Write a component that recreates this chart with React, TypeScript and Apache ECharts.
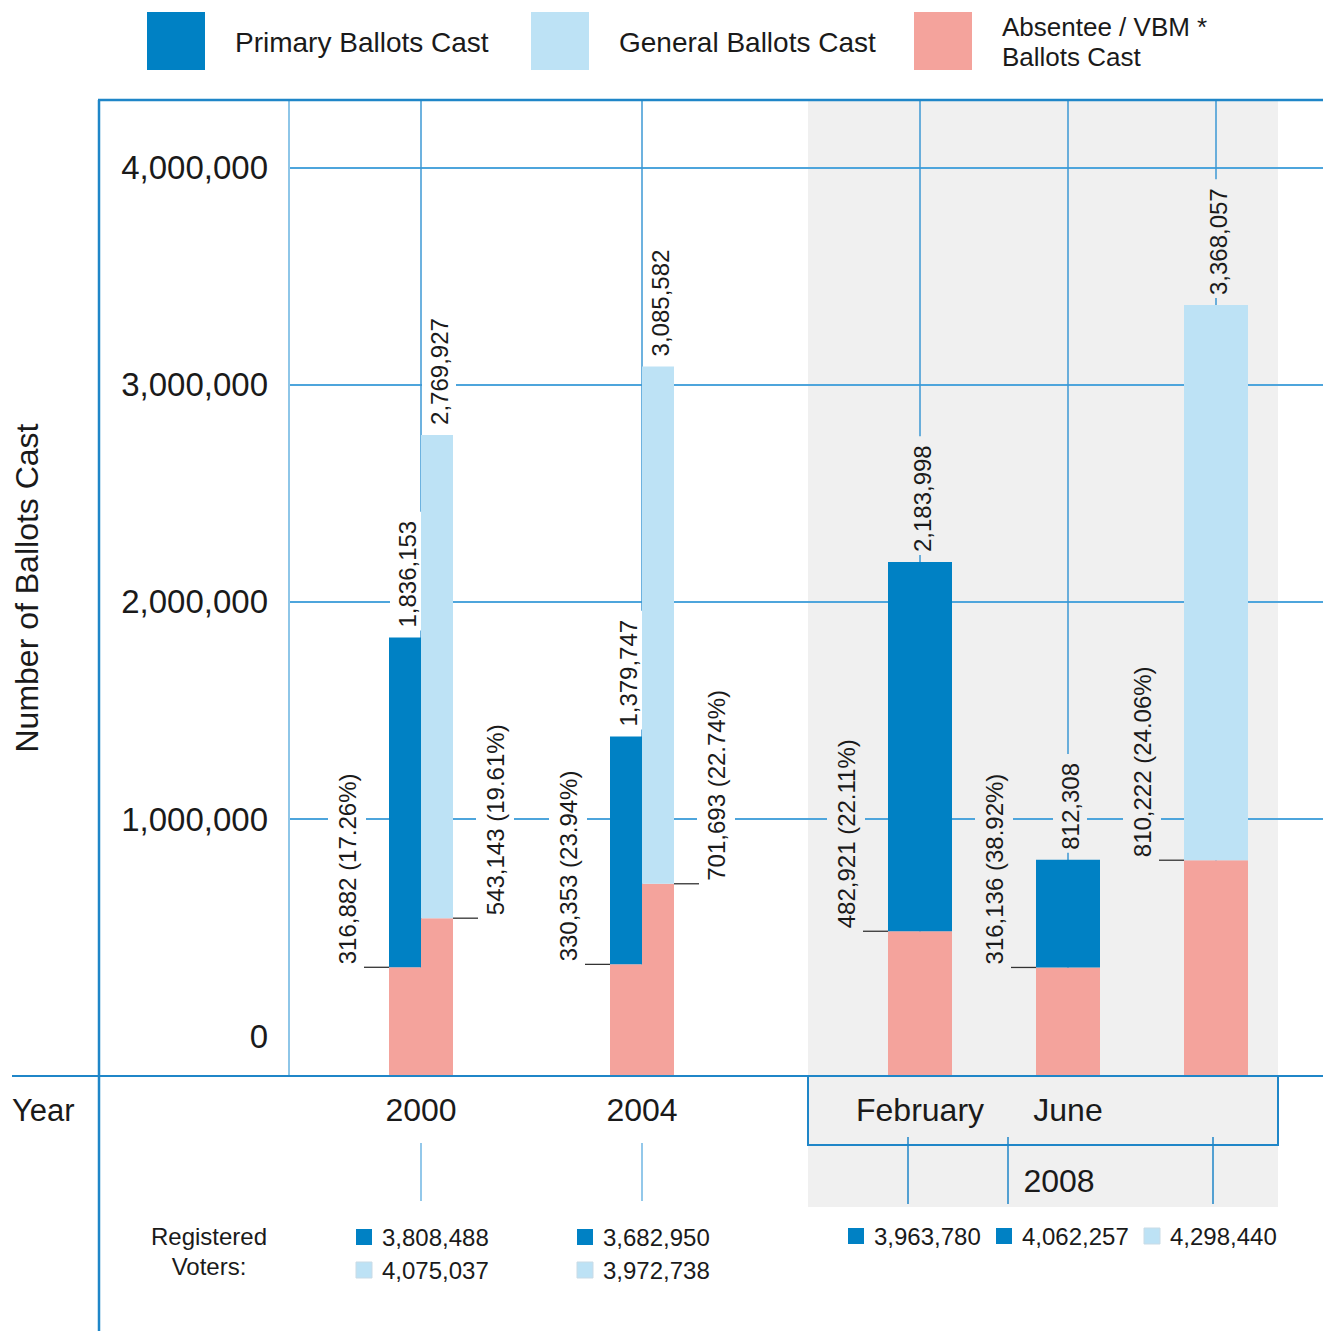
import React, { useEffect, useRef } from "react";
import * as echarts from "echarts";

// ---------------- data ----------------
const electionYears = ["2000", "2004"];
const months2008 = ["February", "June", ""];
// primary elections: 2000, 2004, Feb 2008, Jun 2008
const primaryBallots = [1836153, 1379747, 2183998, 812308];
const primaryAbsentee = [316882, 330353, 482921, 316136];
// general elections: 2000, 2004, Nov 2008
const generalBallots = [2769927, 3085582, 3368057];
const generalAbsentee = [543143, 701693, 810222];
const yTickValues = [0, 1000000, 2000000, 3000000, 4000000];
const registeredPrimary = [3808488, 3682950, 3963780, 4062257];
const registeredGeneral = [4075037, 3972738, 4298440];
const legendLabels = ["Primary Ballots Cast", "General Ballots Cast", "Absentee / VBM *\nBallots Cast"];

// ---------------- style / layout ----------------
const FONT = "'Liberation Sans', Arial, Helvetica, sans-serif";
const DARK = "#0081c4";
const LIGHT = "#bde2f5";
const PINK = "#f4a39c";
const SHADE = "#f0f0f0";
const FRAME = "#1f86c8";
const GRID = "#4ea5dc";
const VGRID = "#3d98d5";
const TEXT = "#1a1a1a";
const Y_MIN = -184000;
const Y_MAX = 4313000;
const TOP = 100;
const BOTTOM = 1076;
const G1_LEFT = 421;
const G1_WIDTH = 221;
const G2_LEFT = 920;
const G2_WIDTH = 296;

const fmt = (v: number) => Math.round(v).toLocaleString("en-US");

function makeBarRenderer(color: string, width: number, offset: number, side: number, bg: string) {
  return (params: any, api: any) => {
    const cat = api.value(0);
    const abs = api.value(1);
    const tot = api.value(2);
    const base = api.coord([cat, Y_MIN]);
    const pa = api.coord([cat, abs]);
    const pt = api.coord([cat, tot]);
    const cx = pt[0] + offset;
    const x0 = cx - width / 2;
    const edge = side < 0 ? x0 : x0 + width;
    const lineEnd = edge + side * 25;
    const labelStyle = {
      fontSize: 24,
      fontFamily: FONT,
      fill: TEXT,
      align: "left",
      verticalAlign: "middle",
      backgroundColor: bg,
      padding: [5, 9, 5, 3],
    };
    return {
      type: "group",
      children: [
        {
          type: "text",
          x: cx + 2,
          y: pt[1] - 7,
          rotation: Math.PI / 2,
          style: { ...labelStyle, text: fmt(tot) },
        },
        {
          type: "text",
          x: lineEnd + side * 17,
          y: pa[1],
          rotation: Math.PI / 2,
          style: { ...labelStyle, padding: [7, 9, 7, 3], text: `${fmt(abs)} (${((abs / tot) * 100).toFixed(2)}%)` },
        },
        {
          type: "rect",
          shape: { x: x0, y: pa[1], width, height: base[1] - pa[1] },
          style: { fill: PINK },
        },
        {
          type: "rect",
          shape: { x: x0, y: pt[1], width, height: pa[1] - pt[1] },
          style: { fill: color },
        },
        {
          type: "line",
          shape: { x1: edge, y1: pa[1], x2: lineEnd, y2: pa[1] },
          style: { stroke: "#333", lineWidth: 1.3 },
        },
      ],
    };
  };
}

function buildGraphic() {
  const g: any[] = [];
  const txt = (x: number, y: number, text: string, fontSize: number, align = "left", extra: any = {}) => ({
    type: "text",
    x,
    y,
    z: 10,
    style: { text, fontSize, fontFamily: FONT, fill: TEXT, align, verticalAlign: "middle", ...extra },
  });
  const line = (x1: number, y1: number, x2: number, y2: number, stroke: string, lineWidth: number) => ({
    type: "line",
    z: 10,
    shape: { x1, y1, x2, y2 },
    style: { stroke, lineWidth },
  });
  // 2008 shading
  g.push({ type: "rect", z: -1, silent: true, shape: { x: 808, y: TOP + 1, width: 470, height: 1106 }, style: { fill: SHADE } });
  // frame
  g.push(line(99, TOP, 99, 1331, FRAME, 2.5));
  g.push(line(98, TOP, 1323, TOP, FRAME, 2.5));
  g.push(line(12, BOTTOM, 1323, BOTTOM, FRAME, 2));
  g.push({
    type: "polyline",
    z: 10,
    shape: { points: [[808, BOTTOM], [808, 1145], [1278, 1145], [1278, BOTTOM]] },
    style: { stroke: FRAME, lineWidth: 2, fill: null },
  });
  // year ticks
  const g1x = (i: number) => G1_LEFT + (i * G1_WIDTH) / (electionYears.length - 1);
  const g2x = (i: number) => G2_LEFT + (i * G2_WIDTH) / (months2008.length - 1);
  electionYears.forEach((_, i) => g.push(line(g1x(i), 1143, g1x(i), 1201, "#6fb6e3", 1.5)));
  [908, 1008, 1213].forEach((x) => g.push(line(x, 1137, x, 1204, FRAME, 1.5)));
  g.push(txt(12, 1110, "Year", 31));
  g.push(txt(1059, 1181, "2008", 32, "center"));

  // legend
  const legendColors = [DARK, LIGHT, PINK];
  const legendX = [147, 531, 914];
  legendLabels.forEach((label, i) => {
    g.push({ type: "rect", z: 10, shape: { x: legendX[i], y: 12, width: 58, height: 58 }, style: { fill: legendColors[i] } });
    const lines = label.split("\n");
    const step = 30;
    const y0 = 42 - ((lines.length - 1) * step) / 2;
    lines.forEach((ln, j) => g.push(txt(legendX[i] + 88, y0 + j * step, ln, lines.length > 1 ? 26 : 28)));
  });

  // registered voters
  g.push(txt(209, 1236, "Registered", 24, "center"));
  g.push(txt(209, 1266, "Voters:", 24, "center"));
  const square = (x: number, y: number, fill: string) => ({
    type: "rect",
    z: 10,
    shape: { x, y: y - 8, width: 16, height: 16 },
    style: { fill, stroke: fill === LIGHT ? "#c9dbe6" : null, lineWidth: 1 },
  });
  electionYears.forEach((_, i) => {
    const x = g1x(i) - 65;
    g.push(square(x, 1237, DARK));
    g.push(txt(x + 26, 1237, fmt(registeredPrimary[i]), 24));
    g.push(square(x, 1270, LIGHT));
    g.push(txt(x + 26, 1270, fmt(registeredGeneral[i]), 24));
  });
  const reg2008 = [
    { v: registeredPrimary[2], c: DARK },
    { v: registeredPrimary[3], c: DARK },
    { v: registeredGeneral[2], c: LIGHT },
  ];
  reg2008.forEach((r, i) => {
    const x = g2x(i) - 72;
    g.push(square(x, 1236, r.c));
    g.push(txt(x + 26, 1236, fmt(r.v), 24));
  });
  return g;
}

export default function App() {
  const ref = useRef<HTMLDivElement>(null);
  useEffect(() => {
    if (!ref.current) return;
    const chart = echarts.init(ref.current, undefined, { renderer: "svg" });
    const hiddenY = (gridIndex: number) => ({ gridIndex, type: "value", min: Y_MIN, max: Y_MAX, show: false });
    const catAxis = (gridIndex: number, data: string[]) => ({
      gridIndex,
      type: "category",
      data,
      boundaryGap: false,
      axisLine: { show: false },
      axisTick: { show: false },
      axisLabel: { interval: 0, fontSize: 32, color: TEXT, fontFamily: FONT, margin: 18 },
      splitLine: { show: true, interval: 0, lineStyle: { color: VGRID, width: 1.5 } },
    });
    const option: any = {
      animation: false,
      backgroundColor: "#ffffff",
      grid: [
        { left: 289, top: TOP, width: 1034, height: BOTTOM - TOP },
        { left: G1_LEFT, top: TOP, width: G1_WIDTH, height: BOTTOM - TOP },
        { left: G2_LEFT, top: TOP, width: G2_WIDTH, height: BOTTOM - TOP },
      ],
      xAxis: [
        { gridIndex: 0, type: "value", min: 0, max: 1, show: false },
        catAxis(1, electionYears),
        catAxis(2, months2008),
      ],
      yAxis: [
        {
          gridIndex: 0,
          type: "value",
          min: Y_MIN,
          max: Y_MAX,
          name: "Number of Ballots Cast",
          nameLocation: "middle",
          nameRotate: 90,
          nameGap: 246,
          nameTextStyle: { fontSize: 32, color: TEXT, fontFamily: FONT },
          axisLine: { show: true, onZero: false, lineStyle: { color: "#8ec6e8", width: 2 } },
          axisTick: { show: false, customValues: yTickValues.filter((v) => v > 0) },
          axisLabel: {
            customValues: yTickValues,
            formatter: (v: number) => fmt(v),
            fontSize: 33,
            color: TEXT,
            fontFamily: FONT,
            margin: 21,
          },
          splitLine: { show: true, lineStyle: { color: GRID, width: 2 } },
        },
        hiddenY(1),
        hiddenY(2),
      ],
      series: [
        {
          type: "custom",
          name: "Primary",
          xAxisIndex: 1,
          yAxisIndex: 1,
          z: 3,
          renderItem: makeBarRenderer(DARK, 32, -16, -1, "#ffffff"),
          encode: { x: 0, y: [1, 2] },
          data: electionYears.map((_, i) => [i, primaryAbsentee[i], primaryBallots[i]]),
        },
        {
          type: "custom",
          name: "General",
          xAxisIndex: 1,
          yAxisIndex: 1,
          z: 3,
          renderItem: makeBarRenderer(LIGHT, 32, 16, 1, "#ffffff"),
          encode: { x: 0, y: [1, 2] },
          data: electionYears.map((_, i) => [i, generalAbsentee[i], generalBallots[i]]),
        },
        {
          type: "custom",
          name: "Primary 2008",
          xAxisIndex: 2,
          yAxisIndex: 2,
          z: 3,
          renderItem: makeBarRenderer(DARK, 64, 0, -1, SHADE),
          encode: { x: 0, y: [1, 2] },
          data: [0, 1].map((i) => [i, primaryAbsentee[i + 2], primaryBallots[i + 2]]),
        },
        {
          type: "custom",
          name: "General 2008",
          xAxisIndex: 2,
          yAxisIndex: 2,
          z: 3,
          renderItem: makeBarRenderer(LIGHT, 64, 0, -1, SHADE),
          encode: { x: 0, y: [1, 2] },
          data: [[2, generalAbsentee[2], generalBallots[2]]],
        },
      ],
      graphic: buildGraphic(),
    };
    chart.setOption(option);
    return () => chart.dispose();
  }, []);
  return (
    <div
      ref={ref}
      style={{ position: "fixed", left: 0, top: 0, width: 1323, height: 1331, background: "#fff" }}
    />
  );
}
